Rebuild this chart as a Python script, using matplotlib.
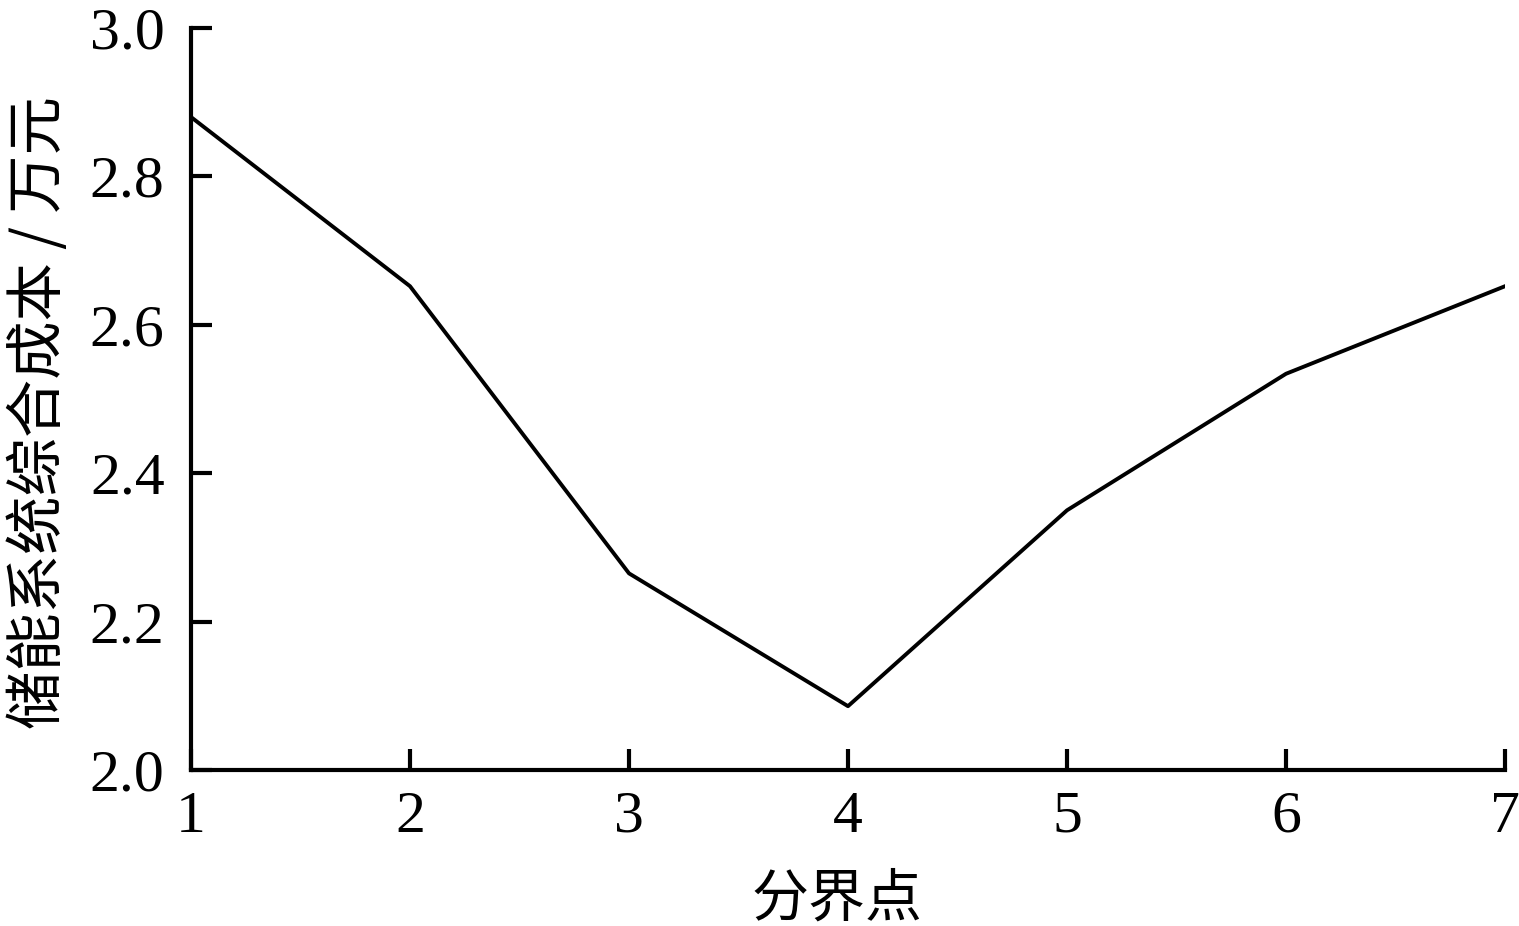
import matplotlib
matplotlib.use("Agg")
import matplotlib.pyplot as plt

x_points = [1, 2, 3, 4, 5, 6, 7]
cost = [2.88, 2.652, 2.265, 2.086, 2.350, 2.534, 2.652]
y_ticks = [2.0, 2.2, 2.4, 2.6, 2.8, 3.0]
y_tick_labels = ["2.0", "2.2", "2.4", "2.6", "2.8", "3.0"]
x_label = "分界点"
y_label = "储能系统综合成本 / 万元"

fig = plt.figure(figsize=(15.19, 9.26), dpi=100)
ax = fig.add_axes([191/1519, 1-770/926, (1505-191)/1519, (770-28)/926])
ax.plot(x_points, cost, color="black", lw=2.8)
ax.set_xlim(1, 7)
ax.set_ylim(2.0, 3.0)
ax.set_xticks(x_points)
ax.set_xticklabels([str(v) for v in x_points])
ax.set_yticks(y_ticks)
ax.set_yticklabels(y_tick_labels)
for s in ["top", "right"]:
    ax.spines[s].set_visible(False)
for s in ["left", "bottom"]:
    ax.spines[s].set_linewidth(3)
ax.tick_params(direction="in", length=15, width=3, labelsize=43)
ax.tick_params(axis="y", pad=19)
ax.tick_params(axis="x", pad=15)
for lab in ax.get_xticklabels() + ax.get_yticklabels():
    lab.set_fontfamily(["Liberation Serif"])
ax.set_xlabel(x_label, fontsize=41, family=["Noto Sans CJK SC", "DejaVu Sans"])
ax.set_ylabel(y_label, fontsize=42, family=["Noto Sans CJK SC", "DejaVu Sans"])
ax.xaxis.set_label_coords(0.4916, -0.1355)
ax.yaxis.set_label_coords(-0.092, 0.482)
fig.savefig("out.png", dpi=100)
